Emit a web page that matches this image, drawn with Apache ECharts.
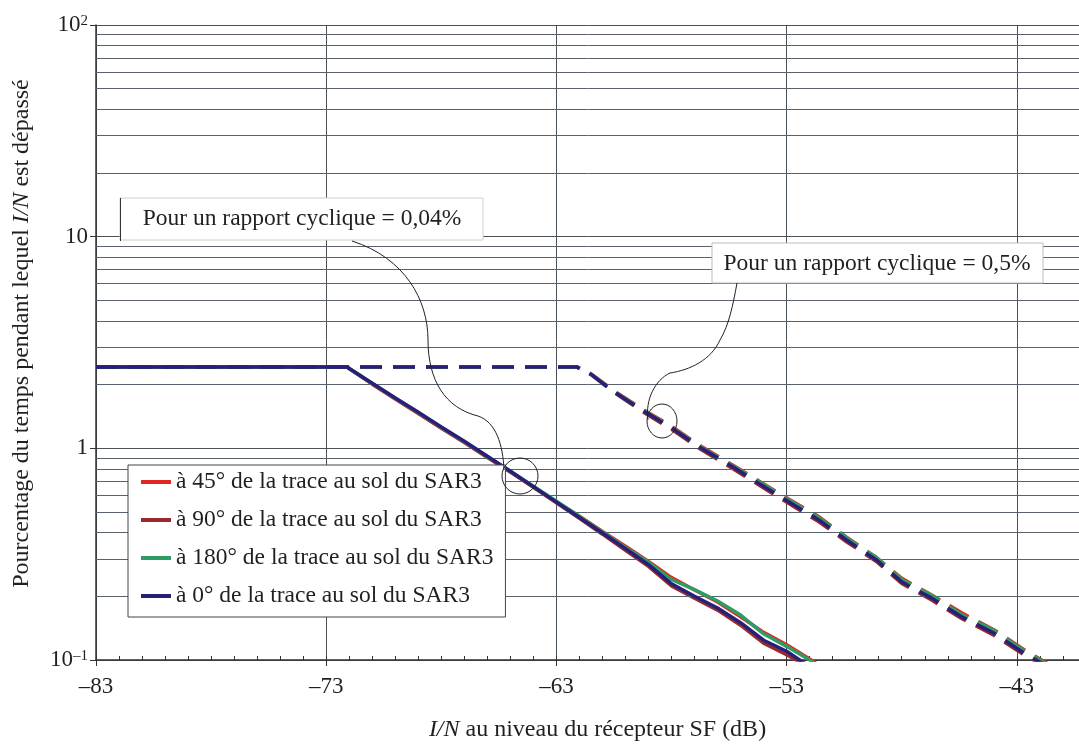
<!DOCTYPE html>
<html>
<head>
<meta charset="utf-8">
<script src="https://cdn.jsdelivr.net/npm/echarts@6/dist/echarts.min.js"></script>
<style>html,body{margin:0;padding:0;background:#fff;}#c{width:1079px;height:749px;}</style>
</head>
<body>
<div id="c"></div>
<script>
// ---- data ----
const seriesNames = [
  'à 45° de la trace au sol du SAR3',
  'à 90° de la trace au sol du SAR3',
  'à 180° de la trace au sol du SAR3',
  'à 0° de la trace au sol du SAR3'
];
const seriesColors = ['#e3261f', '#982a2b', '#2f9d63', '#27207a'];

// duty cycle 0,04 % (solid)
const xSolid = [-83, -72.1, -71, -70, -69, -68, -67, -66, -65, -64, -63, -62, -61, -60, -59, -58, -57, -56, -55, -54, -53, -52, -51.5];
const ySolid45  = [2.42, 2.42, 2.01, 1.71, 1.46, 1.245, 1.065, 0.905, 0.772, 0.657, 0.56, 0.478, 0.405, 0.345, 0.292, 0.245, 0.214, 0.188, 0.160, 0.135, 0.118, 0.101, 0.093];
const ySolid90  = [2.42, 2.42, 2.02, 1.72, 1.47, 1.25, 1.07, 0.91, 0.775, 0.655, 0.553, 0.467, 0.393, 0.33, 0.277, 0.224, 0.196, 0.172, 0.146, 0.12, 0.106, 0.092, 0.086];
const ySolid180 = [2.42, 2.42, 2.025, 1.725, 1.475, 1.255, 1.075, 0.915, 0.78, 0.662, 0.562, 0.476, 0.402, 0.34, 0.29, 0.24, 0.215, 0.19, 0.163, 0.133, 0.116, 0.1, 0.093];
const ySolid0   = [2.42, 2.42, 2.03, 1.73, 1.48, 1.26, 1.08, 0.918, 0.78, 0.659, 0.557, 0.471, 0.398, 0.336, 0.282, 0.229, 0.200, 0.176, 0.150, 0.124, 0.110, 0.093, 0.088];

// duty cycle 0,5 % (dashed)
const xDash = [-83, -62.1, -61.5, -60.5, -59.3, -58, -56.7, -55.4, -54.1, -52.9, -51.6, -50.4, -49.1, -48, -46.7, -45.4, -44, -42.7, -41.5];
const yDash45  = [2.42, 2.42, 2.25, 1.87, 1.54, 1.27, 1.02, 0.84, 0.69, 0.575, 0.475, 0.38, 0.305, 0.243, 0.203, 0.167, 0.139, 0.112, 0.094];
const yDash90  = [2.42, 2.42, 2.23, 1.84, 1.50, 1.23, 0.985, 0.81, 0.66, 0.548, 0.45, 0.362, 0.292, 0.23, 0.192, 0.157, 0.131, 0.106, 0.090];
const yDash180 = [2.42, 2.42, 2.24, 1.86, 1.53, 1.26, 1.01, 0.835, 0.685, 0.57, 0.47, 0.378, 0.305, 0.24, 0.202, 0.164, 0.138, 0.111, 0.093];
const yDash0   = [2.42, 2.42, 2.24, 1.85, 1.52, 1.25, 1.0, 0.825, 0.672, 0.558, 0.459, 0.369, 0.297, 0.234, 0.196, 0.160, 0.134, 0.108, 0.091];

const minorGridValues = [0.2,0.3,0.4,0.5,0.6,0.7,0.8,0.9,2,3,4,5,6,7,8,9,20,30,40,50,60,70,80,90];
const annot1 = 'Pour un rapport cyclique = 0,04%';
const annot2 = 'Pour un rapport cyclique = 0,5%';

// ---- chart ----
const F = 'Liberation Serif';
const TC = '#231f20';
const zip = (xs, ys) => xs.map((x, i) => [x, ys[i]]);
const solidSets = [ySolid45, ySolid90, ySolid180, ySolid0];
const dashSets = [yDash45, yDash90, yDash180, yDash0];

const series = [];
series.push({
  type: 'line', data: [[-83, 1]], showSymbol: false, silent: true, z: 1,
  lineStyle: {opacity: 0},
  markLine: {
    silent: true, symbol: 'none', animation: false,
    label: {show: false},
    lineStyle: {color: '#59626a', width: 1, type: 'solid'},
    data: minorGridValues.map(v => ({yAxis: v}))
  }
});
seriesNames.forEach((n, i) => {
  series.push({
    name: n, type: 'line', data: zip(xSolid, solidSets[i]), showSymbol: false, z: 3 + i,
    lineStyle: {color: seriesColors[i], width: 3.5}, itemStyle: {color: seriesColors[i]}
  });
});
seriesNames.forEach((n, i) => {
  series.push({
    name: n, type: 'line', data: zip(xDash, dashSets[i]), showSymbol: false, z: 3 + i,
    lineStyle: {color: seriesColors[i], width: 3.5, type: [22, 11]}, itemStyle: {color: seriesColors[i]}
  });
});

const chart = echarts.init(document.getElementById('c'), null, {renderer: 'canvas'});
chart.setOption({
  animation: false,
  backgroundColor: '#fff',
  grid: {left: 96, right: 0, top: 25, bottom: 89, containLabel: false, outerBoundsMode: 'none'},
  legend: {
    data: seriesNames, orient: 'vertical', left: 128, top: 465,
    icon: 'rect', itemWidth: 30, itemHeight: 4, itemGap: 14,
    padding: [5, 12, 9, 13],
    backgroundColor: '#fff', borderColor: '#444', borderWidth: 1,
    textStyle: {fontFamily: F, fontSize: 23.5, color: TC, lineHeight: 24},
    z: 10
  },
  xAxis: [{
    type: 'value', min: -83, max: -40.3, interval: 10,
    name: '{i|I/N} au niveau du récepteur SF (dB)', nameLocation: 'middle', nameGap: 58,
    nameTextStyle: {fontFamily: F, fontSize: 24, color: TC, padding: [0, 0, 0, 20],
      rich: {i: {fontStyle: 'italic', fontFamily: F, fontSize: 24, color: TC}}},
    axisLine: {show: true, lineStyle: {color: '#333', width: 1.5}},
    axisTick: {show: true, inside: false, length: 6, lineStyle: {color: '#333'}},
    axisLabel: {fontFamily: F, fontSize: 23, color: TC, margin: 15, showMaxLabel: false,
      formatter: v => (Math.abs((v + 83) % 10) < 1e-6 ? '\u2013' + Math.abs(v) : '')},
    splitLine: {show: true, lineStyle: {color: '#4a5259', width: 1}}
  }, {
    type: 'value', min: -83, max: -40.3, interval: 1, position: 'bottom',
    axisLine: {show: false}, axisLabel: {show: false}, splitLine: {show: false},
    axisTick: {show: true, inside: true, length: 4, lineStyle: {color: '#333'}}
  }],
  yAxis: {
    type: 'log', min: 0.1, max: 100, logBase: 10,
    name: 'Pourcentage du temps pendant lequel {i|I/N} est dépassé', nameLocation: 'middle', nameGap: 62,
    nameTextStyle: {fontFamily: F, fontSize: 24, color: TC, padding: [0, 0, 0, 18],
      rich: {i: {fontStyle: 'italic', fontFamily: F, fontSize: 24, color: TC}}},
    axisLine: {show: true, lineStyle: {color: '#333', width: 1.5}},
    axisTick: {show: true, length: 6, lineStyle: {color: '#333'}},
    axisLabel: {
      margin: 8,
      formatter: v => {
        const e = Math.round(Math.log10(v));
        if (e === 0) return '{b|1}';
        if (e === 1) return '{b|10}';
        return '{b|10}{s|' + (e < 0 ? '\u2013' + Math.abs(e) : e) + '}';
      },
      rich: {
        b: {fontFamily: F, fontSize: 23, color: TC},
        s: {fontFamily: F, fontSize: 15, color: TC, verticalAlign: 'top'}
      }
    },
    splitLine: {show: true, lineStyle: {color: '#4a5259', width: 1}}
  },
  series: series,
  graphic: [
    {type: 'rect', z: 20, shape: {x: 120, y: 198, width: 363, height: 42}, style: {fill: '#fff', stroke: '#cfcfcf', lineWidth: 1}},
    {type: 'line', z: 21, shape: {x1: 120.5, y1: 198, x2: 120.5, y2: 241}, style: {stroke: '#333', lineWidth: 1}},
    {type: 'text', z: 22, x: 302, y: 219, style: {text: annot1, fontFamily: F, fontSize: 23.5, fill: TC, align: 'center', verticalAlign: 'middle'}},
    {type: 'rect', z: 20, shape: {x: 712, y: 243, width: 331, height: 40}, style: {fill: '#fff', stroke: '#bdbdbd', lineWidth: 1}},
    {type: 'text', z: 22, x: 877, y: 264, style: {text: annot2, fontFamily: F, fontSize: 23.5, fill: TC, align: 'center', verticalAlign: 'middle'}},
    // leader 1
    {type: 'bezierCurve', z: 22, shape: {x1: 352, y1: 241, cpx1: 405, cpy1: 258, cpx2: 428, cpy2: 300, x2: 428, y2: 340}, style: {stroke: '#222', lineWidth: 1, fill: 'none'}},
    {type: 'bezierCurve', z: 22, shape: {x1: 428, y1: 340, cpx1: 428, cpy1: 380, cpx2: 445, cpy2: 408, x2: 478, y2: 416}, style: {stroke: '#222', lineWidth: 1, fill: 'none'}},
    {type: 'bezierCurve', z: 22, shape: {x1: 478, y1: 416, cpx1: 496, cpy1: 422, cpx2: 503, cpy2: 445, x2: 504, y2: 470}, style: {stroke: '#222', lineWidth: 1, fill: 'none'}},
    {type: 'ellipse', z: 22, shape: {cx: 520, cy: 476, rx: 18, ry: 18}, style: {stroke: '#222', lineWidth: 1, fill: 'none'}},
    // leader 2
    {type: 'bezierCurve', z: 22, shape: {x1: 737, y1: 283, cpx1: 733, cpy1: 305, cpx2: 729, cpy2: 325, x2: 720, y2: 340}, style: {stroke: '#222', lineWidth: 1, fill: 'none'}},
    {type: 'bezierCurve', z: 22, shape: {x1: 720, y1: 340, cpx1: 711, cpy1: 360, cpx2: 690, cpy2: 370, x2: 670, y2: 373}, style: {stroke: '#222', lineWidth: 1, fill: 'none'}},
    {type: 'bezierCurve', z: 22, shape: {x1: 670, y1: 373, cpx1: 655, cpy1: 380, cpx2: 645, cpy2: 400, x2: 648, y2: 420}, style: {stroke: '#222', lineWidth: 1, fill: 'none'}},
    {type: 'ellipse', z: 22, shape: {cx: 662, cy: 421, rx: 15, ry: 17}, style: {stroke: '#222', lineWidth: 1, fill: 'none'}}
  ]
});
</script>
</body>
</html>
